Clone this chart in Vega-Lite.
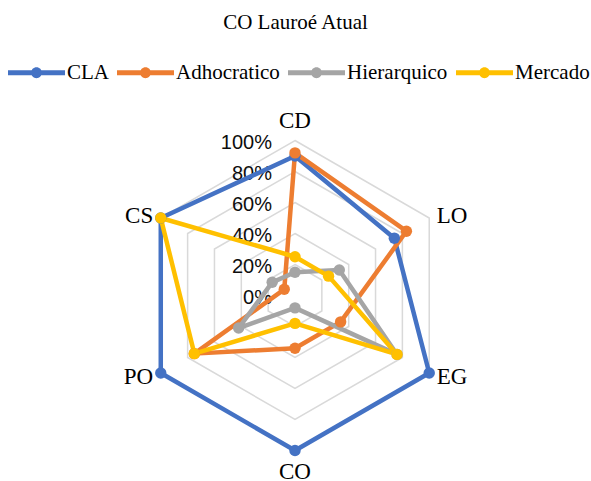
{
  "$schema": "https://vega.github.io/schema/vega-lite/v6.json",
  "width": 591,
  "height": 481,
  "autosize": {"type": "none"},
  "padding": 0,
  "background": "white",
  "config": {
    "view": {"stroke": null},
    "font": "Liberation Serif"
  },
  "title": {
    "text": "CO Lauroé Atual",
    "font": "Liberation Serif",
    "fontSize": 21,
    "fontWeight": "normal",
    "color": "black",
    "anchor": "middle",
    "frame": "group",
    "baseline": "alphabetic",
    "offset": -28,
    "dy": 22
  },
  "datasets": {
    "scores": [
      {"serie": "CLA", "eixo": "CD", "valor": 0.90},
      {"serie": "CLA", "eixo": "LO", "valor": 0.74},
      {"serie": "CLA", "eixo": "EG", "valor": 1.00},
      {"serie": "CLA", "eixo": "CO", "valor": 1.00},
      {"serie": "CLA", "eixo": "PO", "valor": 1.00},
      {"serie": "CLA", "eixo": "CS", "valor": 1.00},
      {"serie": "Adhocratico", "eixo": "CD", "valor": 0.92},
      {"serie": "Adhocratico", "eixo": "LO", "valor": 0.83},
      {"serie": "Adhocratico", "eixo": "EG", "valor": 0.34},
      {"serie": "Adhocratico", "eixo": "CO", "valor": 0.34},
      {"serie": "Adhocratico", "eixo": "PO", "valor": 0.75},
      {"serie": "Adhocratico", "eixo": "CS", "valor": 0.08},
      {"serie": "Hierarquico", "eixo": "CD", "valor": 0.15},
      {"serie": "Hierarquico", "eixo": "LO", "valor": 0.33},
      {"serie": "Hierarquico", "eixo": "EG", "valor": 0.76},
      {"serie": "Hierarquico", "eixo": "CO", "valor": 0.08},
      {"serie": "Hierarquico", "eixo": "PO", "valor": 0.42},
      {"serie": "Hierarquico", "eixo": "CS", "valor": 0.17},
      {"serie": "Mercado", "eixo": "CD", "valor": 0.25},
      {"serie": "Mercado", "eixo": "LO", "valor": 0.25},
      {"serie": "Mercado", "eixo": "EG", "valor": 0.76},
      {"serie": "Mercado", "eixo": "CO", "valor": 0.18},
      {"serie": "Mercado", "eixo": "PO", "valor": 0.75},
      {"serie": "Mercado", "eixo": "CS", "valor": 1.00}
    ],
    "niveis": [
      {"nivel": 0, "eixos": ["CD", "LO", "EG", "CO", "PO", "CS"]},
      {"nivel": 0.2, "eixos": ["CD", "LO", "EG", "CO", "PO", "CS"]},
      {"nivel": 0.4, "eixos": ["CD", "LO", "EG", "CO", "PO", "CS"]},
      {"nivel": 0.6, "eixos": ["CD", "LO", "EG", "CO", "PO", "CS"]},
      {"nivel": 0.8, "eixos": ["CD", "LO", "EG", "CO", "PO", "CS"]},
      {"nivel": 1.0, "eixos": ["CD", "LO", "EG", "CO", "PO", "CS"]}
    ],
    "eixos": [
      {"eixo": "CD"}, {"eixo": "LO"}, {"eixo": "EG"},
      {"eixo": "CO"}, {"eixo": "PO"}, {"eixo": "CS"}
    ]
  },
  "layer": [
    {
      "data": {"name": "niveis"},
      "transform": [
        {"filter": "datum.nivel > 0"},
        {"flatten": ["eixos"], "as": ["eixo"]},
        {"calculate": "indexof(['CD','LO','EG','CO','PO','CS'], datum.eixo)", "as": "idx"},
        {"calculate": "datum.nivel * sin(datum.idx * PI / 3)", "as": "x"},
        {"calculate": "datum.nivel * cos(datum.idx * PI / 3)", "as": "y"}
      ],
      "mark": {"type": "line", "interpolate": "linear-closed", "stroke": "#D9D9D9", "strokeWidth": 1.5},
      "encoding": {
        "x": {"field": "x", "type": "quantitative", "scale": {"domain": [-1.90323, 1.90968], "nice": false, "zero": false}, "axis": null},
        "y": {"field": "y", "type": "quantitative", "scale": {"domain": [-1.19677, 1.90645], "nice": false, "zero": false}, "axis": null},
        "detail": {"field": "nivel", "type": "nominal"},
        "order": {"field": "idx", "type": "quantitative"}
      }
    },
    {
      "data": {"name": "niveis"},
      "transform": [
        {"calculate": "0", "as": "x"},
        {"calculate": "datum.nivel", "as": "y"}
      ],
      "mark": {"type": "text", "align": "right", "baseline": "middle", "dx": -23, "dy": 2, "font": "Liberation Sans", "fontSize": 20, "color": "#0d0d0d"},
      "encoding": {
        "x": {"field": "x", "type": "quantitative"},
        "y": {"field": "y", "type": "quantitative"},
        "text": {"field": "nivel", "type": "quantitative", "format": ".0%"}
      }
    },
    {
      "data": {"name": "scores"},
      "transform": [
        {"calculate": "indexof(['CD','LO','EG','CO','PO','CS'], datum.eixo)", "as": "idx"},
        {"calculate": "datum.valor * sin(datum.idx * PI / 3)", "as": "x"},
        {"calculate": "datum.valor * cos(datum.idx * PI / 3)", "as": "y"}
      ],
      "mark": {"type": "line", "interpolate": "linear-closed", "strokeWidth": 4.5, "strokeJoin": "round"},
      "encoding": {
        "x": {"field": "x", "type": "quantitative"},
        "y": {"field": "y", "type": "quantitative"},
        "color": {
          "field": "serie", "type": "nominal",
          "scale": {"domain": ["CLA", "Adhocratico", "Hierarquico", "Mercado"], "range": ["#4472C4", "#ED7D31", "#A5A5A5", "#FFC000"]},
          "legend": {
            "orient": "none",
            "direction": "horizontal",
            "legendX": 8,
            "legendY": 44,
            "padding": 0,
            "title": null,
            "symbolType": "M-1,-0.088L1,-0.088L1,0.088L-1,0.088Z M0.19,0A0.19,0.19 0 1,1 -0.19,0A0.19,0.19 0 1,1 0.19,0Z",
            "symbolSize": 3249,
            "symbolStrokeWidth": 0,
            "symbolOpacity": 1,
            "labelFont": "Liberation Serif",
            "labelFontSize": 21,
            "labelColor": "black",
            "labelOffset": 2,
            "labelLimit": 0,
            "columnPadding": 8,
            "encode": {"symbols": {"update": {"fill": {"scale": "color", "field": "value"}, "strokeWidth": {"value": 0}}}}
          }
        },
        "order": {"field": "idx", "type": "quantitative"}
      }
    },
    {
      "data": {"name": "scores"},
      "transform": [
        {"calculate": "indexof(['CD','LO','EG','CO','PO','CS'], datum.eixo)", "as": "idx"},
        {"calculate": "datum.valor * sin(datum.idx * PI / 3)", "as": "x"},
        {"calculate": "datum.valor * cos(datum.idx * PI / 3)", "as": "y"}
      ],
      "mark": {"type": "point", "filled": true, "opacity": 1, "size": 130, "strokeWidth": 0},
      "encoding": {
        "x": {"field": "x", "type": "quantitative"},
        "y": {"field": "y", "type": "quantitative"},
        "color": {"field": "serie", "type": "nominal"}
      }
    },
    {
      "data": {"name": "eixos"},
      "transform": [
        {"filter": "datum.eixo == 'CD' || datum.eixo == 'CO'"},
        {"calculate": "indexof(['CD','LO','EG','CO','PO','CS'], datum.eixo)", "as": "idx"},
        {"calculate": "1.135 * sin(datum.idx * PI / 3)", "as": "x"},
        {"calculate": "1.135 * cos(datum.idx * PI / 3)", "as": "y"}
      ],
      "mark": {"type": "text", "align": "center", "baseline": "middle", "dy": 1, "font": "Liberation Serif", "fontSize": 23, "color": "black"},
      "encoding": {
        "x": {"field": "x", "type": "quantitative"},
        "y": {"field": "y", "type": "quantitative"},
        "text": {"field": "eixo", "type": "nominal"}
      }
    },
    {
      "data": {"name": "eixos"},
      "transform": [
        {"filter": "datum.eixo == 'LO' || datum.eixo == 'EG'"},
        {"calculate": "indexof(['CD','LO','EG','CO','PO','CS'], datum.eixo)", "as": "idx"},
        {"calculate": "1.045 * sin(datum.idx * PI / 3)", "as": "x"},
        {"calculate": "1.045 * cos(datum.idx * PI / 3)", "as": "y"}
      ],
      "mark": {"type": "text", "align": "left", "baseline": "middle", "dx": 1.5, "dy": 1, "font": "Liberation Serif", "fontSize": 23, "color": "black"},
      "encoding": {
        "x": {"field": "x", "type": "quantitative"},
        "y": {"field": "y", "type": "quantitative"},
        "text": {"field": "eixo", "type": "nominal"}
      }
    },
    {
      "data": {"name": "eixos"},
      "transform": [
        {"filter": "datum.eixo == 'PO' || datum.eixo == 'CS'"},
        {"calculate": "indexof(['CD','LO','EG','CO','PO','CS'], datum.eixo)", "as": "idx"},
        {"calculate": "1.045 * sin(datum.idx * PI / 3)", "as": "x"},
        {"calculate": "1.045 * cos(datum.idx * PI / 3)", "as": "y"}
      ],
      "mark": {"type": "text", "align": "right", "baseline": "middle", "dx": -1.5, "dy": 1, "font": "Liberation Serif", "fontSize": 23, "color": "black"},
      "encoding": {
        "x": {"field": "x", "type": "quantitative"},
        "y": {"field": "y", "type": "quantitative"},
        "text": {"field": "eixo", "type": "nominal"}
      }
    }
  ]
}
